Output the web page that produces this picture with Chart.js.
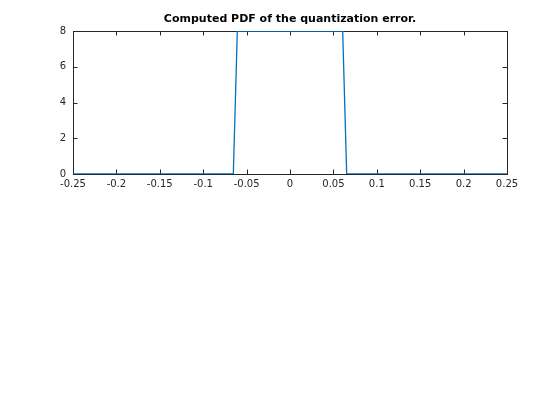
<!DOCTYPE html>
<html>
<head>
<meta charset="utf-8">
<script src="https://cdn.jsdelivr.net/npm/chart.js@4"></script>
<style>
  html, body { margin: 0; padding: 0; background: #fff; }
  #wrap { width: 560px; height: 420px; }
</style>
</head>
<body>
<div id="wrap"><canvas id="chartPdf" width="560" height="420"></canvas></div>
<script>
// quantization error (x) and computed pdf (y)
var errValues = [-0.25, -0.0653, -0.0630, -0.0607, 0.0607, 0.0630, 0.0653, 0.25];
var pdfValues = [0, 0, 4, 8, 8, 4, 0, 0];
var xTicks = [-0.25, -0.2, -0.15, -0.1, -0.05, 0, 0.05, 0.1, 0.15, 0.2, 0.25];
var yTicks = [0, 2, 4, 6, 8];
var titleText = 'Computed PDF of the quantization error.';

var axisColor = '#262626';

// matlab style box with inward ticks, title centred over the axes
var boxTicks = {
    id: 'boxTicks',
    beforeDatasetsDraw: function (chart) {
        var ctx = chart.ctx, a = chart.chartArea;
        var sx = chart.scales.x, sy = chart.scales.y;
        var len = 4.5;
        ctx.save();
        ctx.strokeStyle = axisColor;
        ctx.lineWidth = 1;
        ctx.beginPath();
        xTicks.forEach(function (v) {
            var px = Math.round(sx.getPixelForValue(v)) + 0.5;
            ctx.moveTo(px, a.bottom); ctx.lineTo(px, a.bottom - len);
            ctx.moveTo(px, a.top); ctx.lineTo(px, a.top + len);
        });
        yTicks.forEach(function (v) {
            var py = Math.round(sy.getPixelForValue(v)) + 0.5;
            ctx.moveTo(a.left, py); ctx.lineTo(a.left + len, py);
            ctx.moveTo(a.right, py); ctx.lineTo(a.right - len, py);
        });
        ctx.stroke();
        ctx.strokeRect(Math.round(a.left) + 0.5, Math.round(a.top) + 0.5,
            Math.round(a.right - a.left), Math.round(a.bottom - a.top));

        ctx.fillStyle = '#000';
        ctx.font = 'bold 11px "DejaVu Sans"';
        ctx.textAlign = 'center';
        ctx.textBaseline = 'middle';
        ctx.fillText(titleText, (a.left + a.right) / 2, 19);
        ctx.restore();
    }
};

var ctx = document.getElementById('chartPdf');
new Chart(ctx, {
    type: 'scatter',
    data: {
        datasets: [{
            data: errValues.map(function (x, i) { return { x: x, y: pdfValues[i] }; }),
            showLine: true,
            borderColor: '#0072BD',
            borderWidth: 1.3,
            pointRadius: 0,
            tension: 0,
            fill: false
        }]
    },
    options: {
        responsive: false,
        animation: false,
        layout: { padding: { left: 0, right: 53, top: 31, bottom: 226 } },
        scales: {
            x: {
                type: 'linear',
                min: -0.25,
                max: 0.25,
                afterBuildTicks: function (s) { s.ticks = xTicks.map(function (v) { return { value: v }; }); },
                afterFit: function (s) { s.height = 20; },
                ticks: {
                    color: axisColor,
                    padding: 4,
                    maxRotation: 0,
                    autoSkip: false,
                    font: { family: 'DejaVu Sans', size: 10 },
                    callback: function (v) { return String(Math.round(v * 100) / 100); }
                },
                grid: { display: false, drawTicks: false },
                border: { display: false }
            },
            y: {
                min: 0,
                max: 8,
                afterBuildTicks: function (s) { s.ticks = yTicks.map(function (v) { return { value: v }; }); },
                afterFit: function (s) { s.width = 73; },
                ticks: {
                    color: axisColor,
                    padding: 7,
                    font: { family: 'DejaVu Sans', size: 10 }
                },
                grid: { display: false, drawTicks: false },
                border: { display: false }
            }
        },
        plugins: {
            legend: { display: false },
            tooltip: { enabled: false },
            title: { display: false }
        }
    },
    plugins: [boxTicks]
});
</script>
</body>
</html>
